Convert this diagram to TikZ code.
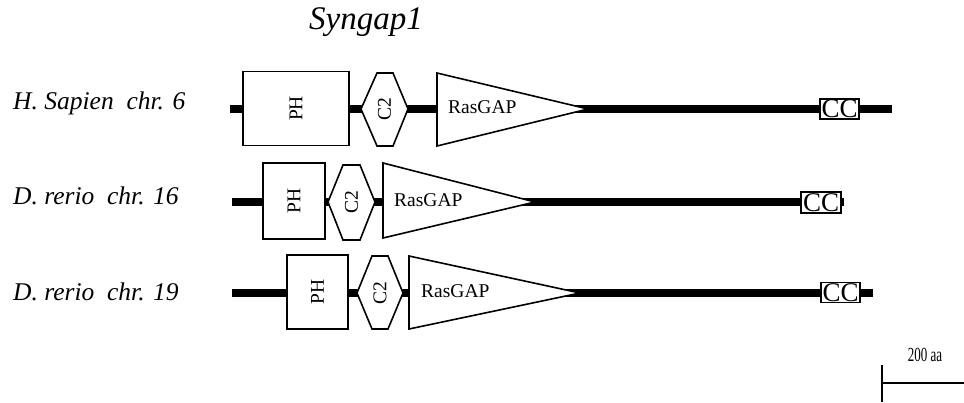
\documentclass[tikz,border=0pt]{standalone}
\usepackage{fontspec}
\setmainfont{Liberation Serif}
\begin{document}
\begin{tikzpicture}[x=1pt,y=-1pt,
  backbone/.style={line width=7.5pt},
  protdom/.style={draw, line width=1.6pt, fill=white, line join=miter},
  lbl/.style={font=\fontsize{25.5}{28}\selectfont\itshape, anchor=west, inner sep=0pt},
  dtext/.style={font=\fontsize{19.5}{22}\selectfont, inner sep=0pt},
  vtext/.style={dtext, rotate=90},
  phbox/.style={protdom, rotate=90, inner sep=0pt, font=\fontsize{19.5}{22}\selectfont},
  ccbox/.style={protdom, minimum width=39pt, minimum height=20pt, inner sep=0pt, font=\fontsize{27}{27}\selectfont},
  bar/.style={line width=1.6pt},
]
\useasboundingbox (0,0) rectangle (964,402);

% title
\node[font=\fontsize{33}{36}\selectfont\itshape, inner sep=0pt] (title) at (366,22) {Syngap1};

% labels
\node[lbl] (l1) at (13,103) {H. Sapien\ \ chr. 6};
\node[lbl] (l2) at (13,196) {D. rerio\ \ chr. 16};
\node[lbl] (l3) at (13,292) {D. rerio\ \ chr. 19};

% ---------- row 1 ----------
\coordinate (s1) at (230,109);
\coordinate (e1) at (892,109);
\draw[backbone] (s1) -- (e1);
\node[phbox, minimum width=74pt, minimum height=106pt] (ph1) at (296,108.5) {PH};
\draw[protdom] (361,109) -- (377,73) -- (393,73) -- (408,109) -- (393,146) -- (377,146) -- cycle;
\node[vtext] (c21) at (384.5,109) {C2};
\draw[protdom] (437,73) -- (588,109) -- (437,146) -- cycle;
\node[dtext, anchor=west] (rg1) at (448,107) {RasGAP};
\node[ccbox] (cc1) at (839.5,109) {CC};

% ---------- row 2 ----------
\coordinate (s2) at (232,202);
\coordinate (e2) at (844,202);
\draw[backbone] (s2) -- (e2);
\node[phbox, minimum width=76pt, minimum height=62pt] (ph2) at (294,201) {PH};
\draw[protdom] (328,202) -- (343,165) -- (360,165) -- (375,202) -- (360,240) -- (343,240) -- cycle;
\node[vtext] (c22) at (351.5,202) {C2};
\draw[protdom] (383,163) -- (535,202) -- (383,238) -- cycle;
\node[dtext, anchor=west] (rg2) at (394,200) {RasGAP};
\node[ccbox, minimum width=40pt, minimum height=21pt] (cc2) at (821,202.5) {CC};

% ---------- row 3 ----------
\coordinate (s3) at (232,293);
\coordinate (e3) at (873,293);
\draw[backbone] (s3) -- (e3);
\node[phbox, minimum width=74pt, minimum height=61pt] (ph3) at (317.5,292) {PH};
\draw[protdom] (357,293) -- (372,256) -- (388,256) -- (403,293) -- (388,329) -- (372,329) -- cycle;
\node[vtext] (c23) at (380,293) {C2};
\draw[protdom] (409,256) -- (580,293) -- (409,329) -- cycle;
\node[dtext, anchor=west] (rg3) at (421,291) {RasGAP};
\node[ccbox] (cc3) at (840.5,292.5) {CC};

% ---------- scale bar ----------
\coordinate (sbt) at (882,365);
\coordinate (sbb) at (882,402);
\coordinate (sbl) at (882,383);
\coordinate (sbr) at (964,383);
\draw[bar] (sbt) -- (sbb);
\draw[bar] (sbl) -- (sbr);
\node[font=\fontsize{20}{22}\selectfont, inner sep=0pt] (sbtext) at (925,355) {\scalebox{0.65}[1]{200 aa}};
\end{tikzpicture}
\end{document}
